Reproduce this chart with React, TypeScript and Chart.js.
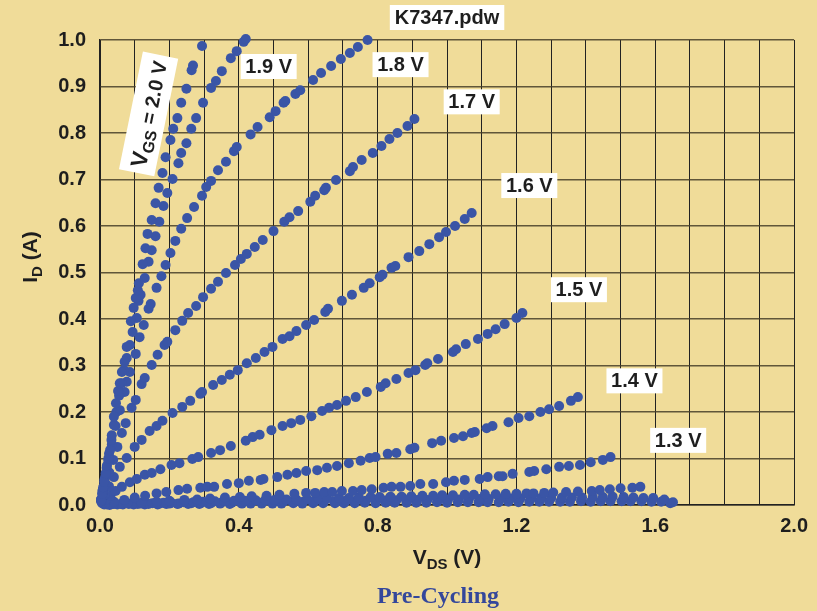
import React, { useEffect, useRef } from "react";
import { Chart, registerables } from "chart.js";

Chart.register(...registerables);

// Drain current I_D (A) against drain-source voltage V_DS (V), one sweep per gate voltage.
const gateLabels = ["2.0 V", "1.9 V", "1.8 V", "1.7 V", "1.6 V", "1.5 V", "1.4 V", "1.3 V", "1.2 V", "1.1 V", "1.0 V"];

const vgs20: [number, number][] = [
  [0.003, 0.01], [0.006, 0.024], [0.009, 0.038], [0.012, 0.05], [0.016, 0.068], [0.02, 0.085], [0.024, 0.1],
  [0.029, 0.118], [0.034, 0.15], [0.04, 0.19], [0.046, 0.219], [0.052, 0.245], [0.057, 0.262], [0.063, 0.286],
  [0.071, 0.308], [0.077, 0.34], [0.089, 0.395], [0.097, 0.424], [0.103, 0.445], [0.109, 0.462], [0.112, 0.477],
  [0.123, 0.518], [0.131, 0.552], [0.137, 0.583], [0.149, 0.613], [0.16, 0.649], [0.169, 0.682], [0.18, 0.714],
  [0.189, 0.748], [0.203, 0.785], [0.211, 0.809], [0.223, 0.832], [0.234, 0.865], [0.249, 0.895], [0.264, 0.935],
  [0.268, 0.945], [0.294, 0.987],
];

const vgs19: [number, number][] = [
  [0.003, 0.012], [0.007, 0.03], [0.013, 0.055], [0.019, 0.08], [0.026, 0.11], [0.033, 0.14], [0.04, 0.172],
  [0.047, 0.2], [0.055, 0.235], [0.062, 0.262], [0.069, 0.29], [0.077, 0.316], [0.086, 0.344], [0.094, 0.372],
  [0.106, 0.402], [0.111, 0.439], [0.117, 0.452], [0.129, 0.488], [0.14, 0.523], [0.149, 0.548], [0.16, 0.578],
  [0.171, 0.609], [0.183, 0.643], [0.194, 0.671], [0.209, 0.701], [0.226, 0.735], [0.234, 0.757], [0.249, 0.778],
  [0.263, 0.809], [0.277, 0.832], [0.297, 0.865], [0.32, 0.897], [0.334, 0.912], [0.351, 0.933], [0.377, 0.961],
  [0.394, 0.976], [0.414, 0.996], [0.42, 1.002],
];

const vgs18: [number, number][] = [
  [0.003, 0.012], [0.008, 0.032], [0.015, 0.06], [0.024, 0.095], [0.034, 0.13], [0.045, 0.17], [0.057, 0.204],
  [0.071, 0.243], [0.077, 0.265], [0.086, 0.286], [0.103, 0.325], [0.114, 0.361], [0.126, 0.387], [0.14, 0.422],
  [0.146, 0.432], [0.163, 0.467], [0.177, 0.492], [0.189, 0.516], [0.203, 0.542], [0.217, 0.568], [0.234, 0.594],
  [0.251, 0.617], [0.271, 0.641], [0.294, 0.665], [0.306, 0.684], [0.32, 0.697], [0.34, 0.72], [0.363, 0.738],
  [0.386, 0.761], [0.394, 0.77], [0.434, 0.797], [0.454, 0.813], [0.489, 0.834], [0.506, 0.847], [0.529, 0.865],
  [0.534, 0.869], [0.563, 0.884], [0.577, 0.892], [0.614, 0.914], [0.637, 0.929], [0.666, 0.944], [0.694, 0.959],
  [0.72, 0.972], [0.743, 0.985], [0.771, 1.0],
];

const vgs17: [number, number][] = [
  [0.003, 0.008], [0.008, 0.022], [0.017, 0.045], [0.027, 0.07], [0.038, 0.097], [0.05, 0.125], [0.063, 0.155],
  [0.074, 0.176], [0.091, 0.209], [0.103, 0.226], [0.12, 0.26], [0.129, 0.273], [0.149, 0.301], [0.166, 0.323],
  [0.186, 0.344], [0.194, 0.351], [0.217, 0.376], [0.237, 0.396], [0.254, 0.413], [0.277, 0.428], [0.297, 0.447],
  [0.32, 0.465], [0.34, 0.48], [0.363, 0.499], [0.389, 0.516], [0.406, 0.529], [0.423, 0.54], [0.446, 0.555],
  [0.469, 0.57], [0.5, 0.589], [0.531, 0.609], [0.546, 0.619], [0.571, 0.632], [0.606, 0.652], [0.62, 0.665],
  [0.646, 0.677], [0.651, 0.682], [0.68, 0.699], [0.72, 0.718], [0.729, 0.727], [0.754, 0.742], [0.786, 0.757],
  [0.811, 0.772], [0.834, 0.787], [0.857, 0.8], [0.886, 0.815], [0.906, 0.83],
];

const vgs16: [number, number][] = [
  [0.005, 0.008], [0.014, 0.022], [0.026, 0.04], [0.04, 0.06], [0.057, 0.082], [0.077, 0.101], [0.1, 0.125],
  [0.12, 0.14], [0.143, 0.159], [0.163, 0.17], [0.18, 0.181], [0.209, 0.198], [0.237, 0.211], [0.26, 0.224],
  [0.289, 0.239], [0.294, 0.243], [0.326, 0.258], [0.351, 0.269], [0.374, 0.28], [0.397, 0.29], [0.423, 0.305],
  [0.449, 0.316], [0.474, 0.329], [0.497, 0.34], [0.526, 0.357], [0.546, 0.363], [0.566, 0.374], [0.594, 0.387],
  [0.617, 0.398], [0.649, 0.415], [0.657, 0.422], [0.697, 0.439], [0.726, 0.452], [0.76, 0.467], [0.777, 0.477],
  [0.806, 0.49], [0.814, 0.495], [0.84, 0.51], [0.851, 0.514], [0.889, 0.533], [0.92, 0.546], [0.949, 0.561],
  [0.977, 0.576], [0.997, 0.587], [1.023, 0.6], [1.051, 0.615], [1.071, 0.628],
];

const vgs15: [number, number][] = [
  [0.006, 0.004], [0.016, 0.011], [0.03, 0.02], [0.045, 0.03], [0.063, 0.039], [0.086, 0.049], [0.106, 0.056],
  [0.129, 0.065], [0.149, 0.069], [0.174, 0.077], [0.206, 0.086], [0.229, 0.09], [0.266, 0.099], [0.283, 0.103],
  [0.32, 0.112], [0.346, 0.118], [0.377, 0.127], [0.42, 0.138], [0.44, 0.146], [0.46, 0.151], [0.494, 0.161],
  [0.526, 0.17], [0.551, 0.176], [0.577, 0.183], [0.609, 0.191], [0.64, 0.202], [0.66, 0.209], [0.683, 0.215],
  [0.709, 0.224], [0.737, 0.232], [0.769, 0.243], [0.809, 0.254], [0.823, 0.262], [0.854, 0.271], [0.889, 0.284],
  [0.909, 0.29], [0.937, 0.301], [0.943, 0.305], [0.974, 0.314], [1.017, 0.329], [1.026, 0.335], [1.054, 0.346],
  [1.089, 0.357], [1.117, 0.368], [1.14, 0.378], [1.166, 0.389], [1.2, 0.402], [1.217, 0.413],
];

const vgs14: [number, number][] = [
  [0.015, 0.003], [0.04, 0.007], [0.07, 0.011], [0.1, 0.016], [0.13, 0.02], [0.163, 0.025], [0.191, 0.028],
  [0.226, 0.032], [0.251, 0.035], [0.289, 0.037], [0.309, 0.039], [0.329, 0.039], [0.366, 0.045], [0.4, 0.047],
  [0.429, 0.052], [0.463, 0.054], [0.471, 0.056], [0.511, 0.06], [0.54, 0.065], [0.566, 0.069], [0.594, 0.073],
  [0.626, 0.075], [0.654, 0.08], [0.683, 0.084], [0.717, 0.09], [0.751, 0.095], [0.777, 0.101], [0.794, 0.103],
  [0.829, 0.11], [0.854, 0.112], [0.894, 0.12], [0.906, 0.123], [0.957, 0.133], [0.983, 0.138], [1.02, 0.144],
  [1.046, 0.148], [1.071, 0.155], [1.08, 0.157], [1.114, 0.165], [1.131, 0.17], [1.177, 0.178], [1.206, 0.187],
  [1.237, 0.191], [1.269, 0.2], [1.294, 0.206], [1.323, 0.213], [1.357, 0.224], [1.377, 0.232],
];

const vgs13: [number, number][] = [
  [0.04, 0.002], [0.08, 0.004], [0.12, 0.005], [0.163, 0.007], [0.2, 0.009], [0.243, 0.011], [0.28, 0.012],
  [0.317, 0.014], [0.36, 0.016], [0.403, 0.017], [0.437, 0.019], [0.48, 0.02], [0.517, 0.022], [0.56, 0.024],
  [0.594, 0.026], [0.62, 0.026], [0.646, 0.028], [0.669, 0.028], [0.697, 0.03], [0.729, 0.03], [0.754, 0.032],
  [0.783, 0.034], [0.817, 0.037], [0.84, 0.039], [0.866, 0.039], [0.894, 0.041], [0.923, 0.045], [0.96, 0.045],
  [0.997, 0.049], [1.02, 0.052], [1.051, 0.054], [1.094, 0.056], [1.117, 0.06], [1.149, 0.062], [1.16, 0.062],
  [1.189, 0.067], [1.237, 0.071], [1.251, 0.073], [1.286, 0.077], [1.323, 0.082], [1.351, 0.084], [1.383, 0.086],
  [1.414, 0.092], [1.449, 0.097], [1.471, 0.103],
];

const vgs12: [number, number][] = [
  [0.012, 0.001], [0.035, 0.002], [0.06, 0.002], [0.094, 0.003], [0.118, 0.003], [0.151, 0.004], [0.183, 0.005],
  [0.206, 0.005], [0.24, 0.006], [0.269, 0.006], [0.297, 0.007], [0.331, 0.008], [0.36, 0.008], [0.386, 0.009],
  [0.417, 0.009], [0.449, 0.01], [0.477, 0.011], [0.503, 0.011], [0.537, 0.012], [0.566, 0.012], [0.597, 0.013],
  [0.629, 0.014], [0.654, 0.014], [0.689, 0.015], [0.717, 0.015], [0.746, 0.016], [0.78, 0.017], [0.806, 0.017],
  [0.837, 0.018], [0.869, 0.018], [0.897, 0.019], [0.929, 0.02], [0.96, 0.02], [0.986, 0.021], [1.017, 0.021],
  [1.051, 0.022], [1.077, 0.022], [1.109, 0.023], [1.14, 0.023], [1.169, 0.024], [1.2, 0.024], [1.229, 0.025],
  [1.249, 0.025], [1.28, 0.026], [1.306, 0.027], [1.343, 0.028], [1.377, 0.029], [1.417, 0.03], [1.44, 0.032],
  [1.469, 0.034], [1.5, 0.036], [1.534, 0.037], [1.557, 0.039],
];

const vgs11: [number, number][] = [
  [0.02, 0.001], [0.05, 0.001], [0.083, 0.002], [0.109, 0.002], [0.14, 0.002], [0.171, 0.003], [0.2, 0.003],
  [0.226, 0.003], [0.263, 0.004], [0.291, 0.004], [0.32, 0.004], [0.349, 0.005], [0.38, 0.005], [0.406, 0.005],
  [0.437, 0.006], [0.469, 0.006], [0.494, 0.006], [0.529, 0.007], [0.554, 0.007], [0.586, 0.007], [0.617, 0.008],
  [0.646, 0.008], [0.674, 0.008], [0.709, 0.009], [0.737, 0.009], [0.766, 0.009], [0.797, 0.01], [0.826, 0.01],
  [0.854, 0.01], [0.886, 0.011], [0.914, 0.011], [0.943, 0.011], [0.977, 0.012], [1.003, 0.012], [1.034, 0.012],
  [1.063, 0.013], [1.094, 0.013], [1.12, 0.013], [1.154, 0.014], [1.183, 0.014], [1.211, 0.014], [1.243, 0.015],
  [1.271, 0.015], [1.3, 0.015], [1.331, 0.016], [1.36, 0.016], [1.389, 0.016], [1.42, 0.017], [1.449, 0.017],
  [1.477, 0.018], [1.509, 0.017], [1.537, 0.016], [1.566, 0.015], [1.594, 0.015], [1.626, 0.012], [1.651, 0.006],
];

const vgs10: [number, number][] = [
  [0.028, 0.0], [0.066, 0.001], [0.097, 0.001], [0.129, 0.001], [0.166, 0.001], [0.191, 0.002], [0.223, 0.002],
  [0.254, 0.002], [0.286, 0.002], [0.314, 0.002], [0.346, 0.003], [0.374, 0.002], [0.409, 0.003], [0.434, 0.003],
  [0.466, 0.003], [0.497, 0.003], [0.523, 0.003], [0.557, 0.004], [0.583, 0.003], [0.614, 0.004], [0.643, 0.004],
  [0.677, 0.004], [0.703, 0.004], [0.734, 0.004], [0.763, 0.005], [0.794, 0.004], [0.823, 0.005], [0.849, 0.005],
  [0.883, 0.005], [0.911, 0.005], [0.94, 0.005], [0.971, 0.006], [1.0, 0.005], [1.031, 0.006], [1.06, 0.006],
  [1.091, 0.006], [1.117, 0.006], [1.149, 0.006], [1.177, 0.007], [1.206, 0.006], [1.237, 0.007], [1.266, 0.007],
  [1.294, 0.007], [1.326, 0.007], [1.354, 0.007], [1.386, 0.008], [1.414, 0.007], [1.443, 0.008], [1.471, 0.008],
  [1.503, 0.008], [1.529, 0.008], [1.56, 0.008], [1.589, 0.007], [1.617, 0.007], [1.643, 0.004],
];

const sweeps = [vgs20, vgs19, vgs18, vgs17, vgs16, vgs15, vgs14, vgs13, vgs12, vgs11, vgs10];

// Axis ranges and tick spacing
const xMin = 0;
const xMax = 2.0;
const xGridStep = 0.1;
const xLabelEvery = 4; // label every 0.4 V
const yMin = 0;
const yMax = 1.0;
const yStep = 0.1;

// Curve tags placed in data coordinates (V_DS, I_D)
const curveTags: { text: string; x: number; y: number }[] = [
  { text: "1.9 V", x: 0.486, y: 0.943 },
  { text: "1.8 V", x: 0.866, y: 0.947 },
  { text: "1.7 V", x: 1.071, y: 0.867 },
  { text: "1.6 V", x: 1.237, y: 0.687 },
  { text: "1.5 V", x: 1.38, y: 0.463 },
  { text: "1.4 V", x: 1.54, y: 0.267 },
  { text: "1.3 V", x: 1.666, y: 0.139 },
];
const firstTag = { x: 0.14, y: 0.841, value: "2.0 V" };
const fileName = "K7347.pdw";
const caption = "Pre-Cycling";

const BG = "#F0DC99";
const DOT = "#3A55A6";
const INK = "#1E1E1E";
const SANS = "'Liberation Sans', Arial, sans-serif";
const SERIF = "'Liberation Serif', 'Times New Roman', serif";

type Part = { t: string; size: number; dy?: number };

function drawRich(ctx: CanvasRenderingContext2D, parts: Part[], cx: number, baseline: number) {
  let total = 0;
  const widths = parts.map((p) => {
    ctx.font = `bold ${p.size}px ${SANS}`;
    const w = ctx.measureText(p.t).width;
    total += w;
    return w;
  });
  let x = cx - total / 2;
  ctx.textAlign = "left";
  ctx.textBaseline = "alphabetic";
  parts.forEach((p, i) => {
    ctx.font = `bold ${p.size}px ${SANS}`;
    ctx.fillText(p.t, x, baseline + (p.dy || 0));
    x += widths[i];
  });
}

const overlayPlugin = {
  id: "overlayText",
  afterDraw(chart: any) {
    const ctx: CanvasRenderingContext2D = chart.ctx;
    const xs = chart.scales.x;
    const ys = chart.scales.y;
    const area = chart.chartArea;
    ctx.save();

    // white tags beside each curve
    curveTags.forEach((tag) => {
      const px = xs.getPixelForValue(tag.x);
      const py = ys.getPixelForValue(tag.y);
      ctx.fillStyle = "#FFFFFF";
      ctx.fillRect(px - 28, py - 12.5, 56, 25);
      ctx.fillStyle = INK;
      ctx.textAlign = "center";
      ctx.textBaseline = "middle";
      ctx.font = `bold 20px ${SANS}`;
      ctx.fillText(tag.text, px, py + 1);
    });

    // rotated V_GS tag
    {
      const px = xs.getPixelForValue(firstTag.x);
      const py = ys.getPixelForValue(firstTag.y);
      ctx.save();
      ctx.translate(px, py);
      ctx.rotate((-78.5 * Math.PI) / 180);
      ctx.fillStyle = "#FFFFFF";
      ctx.fillRect(-60, -18, 120, 36);
      ctx.fillStyle = INK;
      drawRich(
        ctx,
        [
          { t: "V", size: 23 },
          { t: "GS", size: 16, dy: 4 },
          { t: " = " + firstTag.value, size: 20 },
        ],
        0,
        8
      );
      ctx.restore();
    }

    // file name above the plot
    {
      const cx = xs.getPixelForValue(1.0);
      ctx.font = `bold 20px ${SANS}`;
      const w = ctx.measureText(fileName).width + 10;
      ctx.fillStyle = "#FFFFFF";
      ctx.fillRect(cx - w / 2, area.top - 35, w, 25);
      ctx.fillStyle = INK;
      ctx.textAlign = "center";
      ctx.textBaseline = "middle";
      ctx.fillText(fileName, cx, area.top - 22);
    }

    // axis titles
    ctx.fillStyle = INK;
    drawRich(
      ctx,
      [
        { t: "V", size: 21 },
        { t: "DS", size: 15, dy: 5 },
        { t: " (V)", size: 21 },
      ],
      447,
      564
    );
    ctx.save();
    ctx.translate(37, 257);
    ctx.rotate(-Math.PI / 2);
    drawRich(
      ctx,
      [
        { t: "I", size: 21 },
        { t: "D", size: 15, dy: 5 },
        { t: " (A)", size: 21 },
      ],
      0,
      0
    );
    ctx.restore();

    // caption
    ctx.fillStyle = "#34479B";
    ctx.font = `bold 24px ${SERIF}`;
    ctx.textAlign = "center";
    ctx.textBaseline = "alphabetic";
    ctx.fillText(caption, 438, 603);

    ctx.restore();
  },
};

export default function App() {
  const canvasRef = useRef<HTMLCanvasElement | null>(null);

  useEffect(() => {
    const canvas = canvasRef.current;
    if (!canvas) return;
    const datasets = sweeps.map((pts, i) => ({
      label: gateLabels[i],
      data: pts.map(([x, y]) => ({ x, y })),
      backgroundColor: DOT,
      borderWidth: 0,
      pointRadius: 5,
      pointHoverRadius: 5,
      showLine: false,
      clip: false as const,
    }));

    const chart = new Chart(canvas, {
      type: "scatter",
      data: { datasets },
      options: {
        responsive: false,
        animation: false,
        devicePixelRatio: 1,
        layout: { padding: { top: 40, right: 17, bottom: 76, left: 0 } },
        plugins: {
          legend: { display: false },
          tooltip: { enabled: false },
          title: { display: false },
        },
        scales: {
          x: {
            type: "linear",
            min: xMin,
            max: xMax,
            afterFit: (s: any) => {
              s.height = 30;
            },
            ticks: {
              stepSize: xGridStep,
              autoSkip: false,
              maxRotation: 0,
              padding: 9,
              color: INK,
              font: { family: SANS, size: 20, weight: "bold" },
              callback: (v: any) => {
                const r = Math.round(Number(v) / xGridStep);
                return r % xLabelEvery === 0 ? (r * xGridStep).toFixed(1) : "";
              },
            },
            grid: { color: "#222222", lineWidth: 1, drawTicks: false },
            border: { color: "#222222", width: 1.5 },
          },
          y: {
            type: "linear",
            min: yMin,
            max: yMax,
            afterFit: (s: any) => {
              s.width = 100;
            },
            ticks: {
              stepSize: yStep,
              autoSkip: false,
              padding: 14,
              color: INK,
              font: { family: SANS, size: 20, weight: "bold" },
              callback: (v: any) => Number(v).toFixed(1),
            },
            grid: { color: "rgba(70,62,40,0.85)", lineWidth: 1.6, drawTicks: false },
            border: { color: "#222222", width: 1.2 },
          },
        },
      },
      plugins: [overlayPlugin],
    });

    return () => {
      chart.destroy();
    };
  }, []);

  return (
    <div
      style={{
        position: "fixed",
        left: 0,
        top: 0,
        width: 817,
        height: 611,
        background: BG,
        overflow: "hidden",
      }}
    >
      <canvas ref={canvasRef} width={817} height={611} style={{ display: "block", width: 817, height: 611 }} />
    </div>
  );
}
